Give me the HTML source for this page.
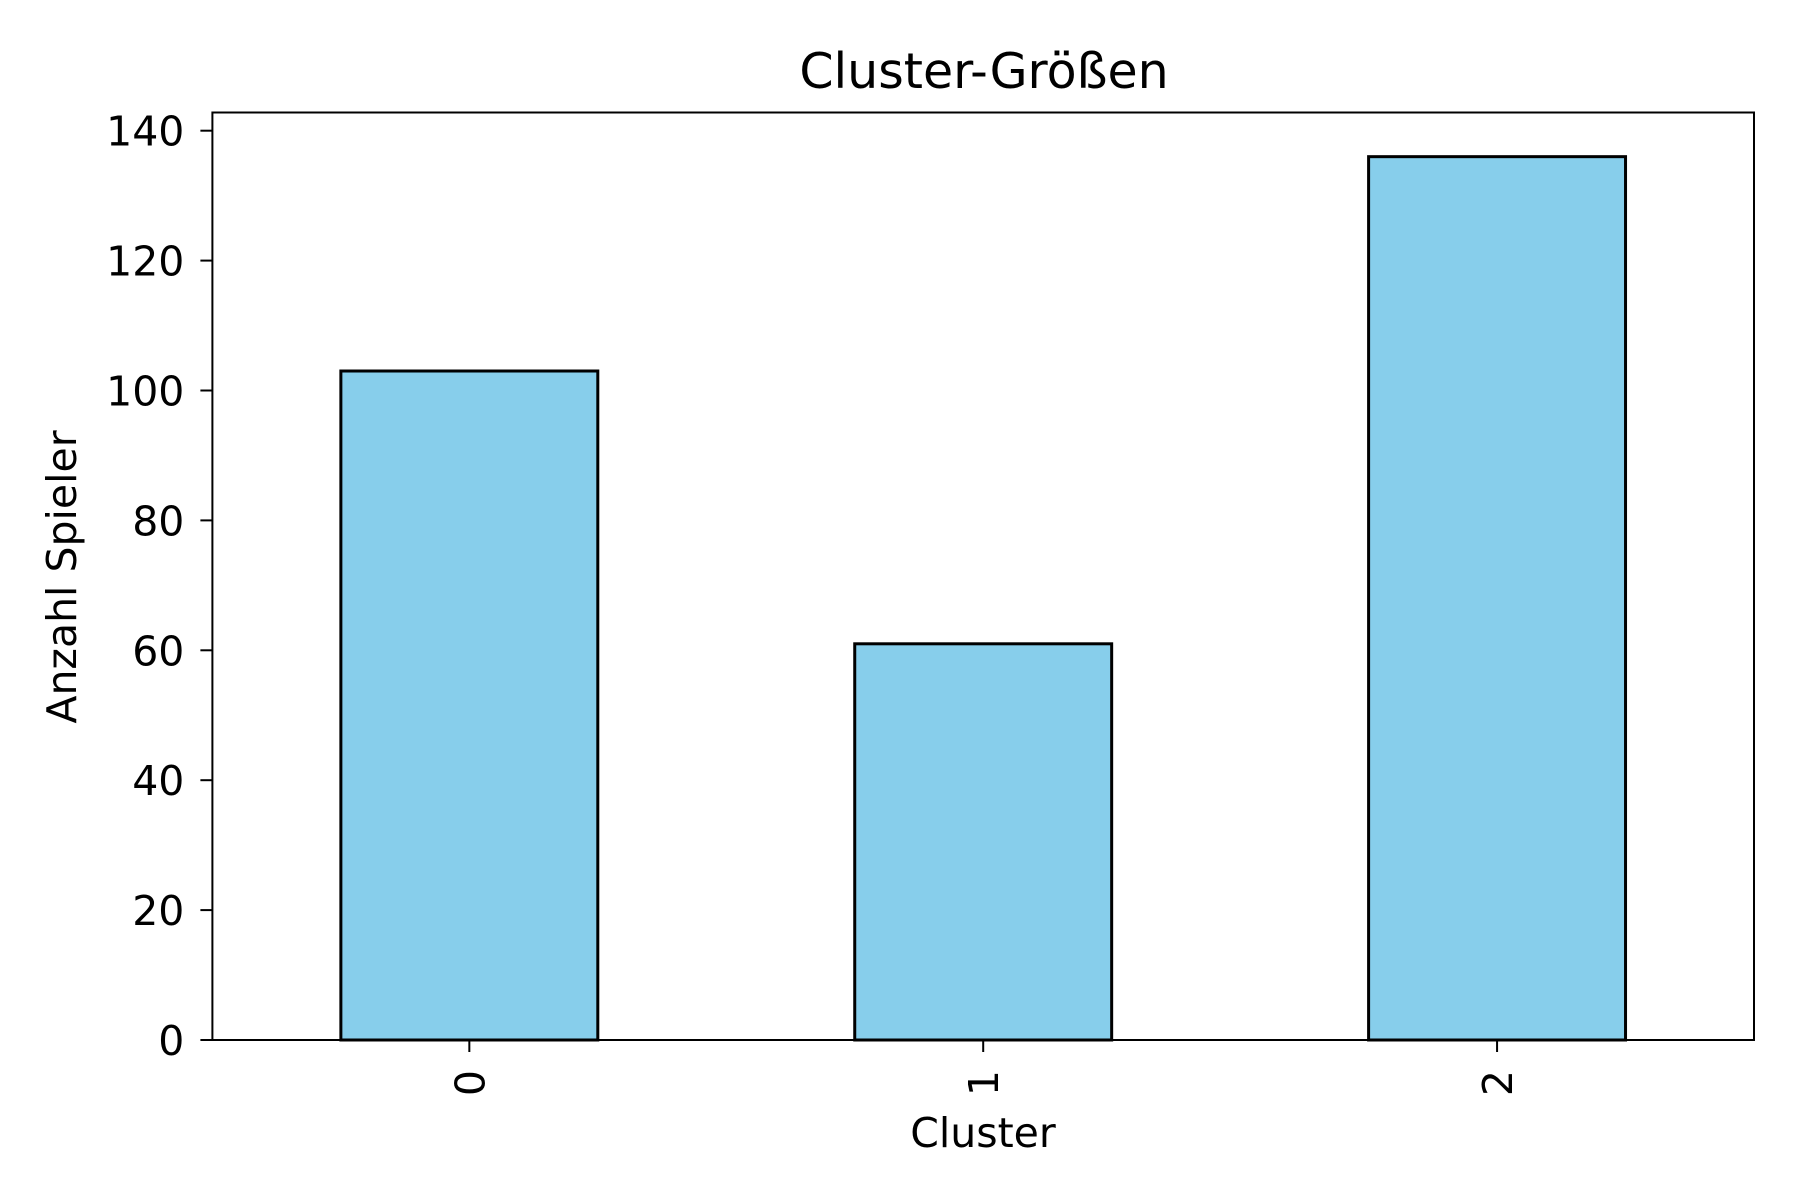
<!DOCTYPE html>
<html><head><meta charset="utf-8"><style>
html,body{margin:0;padding:0;background:#fff;}
svg{display:block;font-family:"DejaVu Sans","Liberation Sans",sans-serif;}
</style></head><body>
<svg id="chart" width="1800" height="1200" viewBox="0 0 1800 1200" xmlns="http://www.w3.org/2000/svg">
<rect width="1800" height="1200" fill="#fff"/>
<text x="984" y="88" font-size="49" text-anchor="middle">Cluster-Größen</text>
<g id="bars"></g>
<g id="yticks"></g>
<g id="xticks"></g>
<rect x="212.4" y="112.5" width="1541.6" height="927.5" fill="none" stroke="#000" stroke-width="2"/>
<text transform="translate(76,577) rotate(-90)" font-size="41" text-anchor="middle">Anzahl Spieler</text>
<text x="983" y="1147" font-size="41" text-anchor="middle">Cluster</text>
</svg>
<script>
const categories = ["0", "1", "2"];
const values = [103, 61, 136];
const yTicks = [0, 20, 40, 60, 80, 100, 120, 140];

const L = 212.4, R = 1754, T = 112.5, B = 1040;
const yMax = 142.8, xMin = -0.5, xMax = 2.5;
const NS = "http://www.w3.org/2000/svg";
function y(v){ return B - (v / yMax) * (B - T); }
function x(i){ return L + (i - xMin) / (xMax - xMin) * (R - L); }
const bw = (x(0.5) - x(0));
function mk(tag, attrs, parent){ const e = document.createElementNS(NS, tag); for (const k in attrs) e.setAttribute(k, attrs[k]); parent.appendChild(e); return e; }

const gB = document.getElementById('bars');
values.forEach((v, i) => {
  const r = mk('rect', {x: x(i) - bw/2, y: y(v), width: bw, height: B - y(v), fill: '#87ceeb', stroke: '#000', 'stroke-width': 3}, gB);
  
  
});
const gY = document.getElementById('yticks');
yTicks.forEach(t => {
  const l = mk('line', {x1: L - 12, x2: L, y1: y(t), y2: y(t), stroke: '#000', 'stroke-width': 2}, gY);
  
  
  const tx = mk('text', {x: L - 28, y: y(t) + 15, 'font-size': 41, 'text-anchor': 'end'}, gY);
  tx.textContent = t;
  
  
});
const gX = document.getElementById('xticks');
categories.forEach((c, i) => {
  const l = mk('line', {x1: x(i), x2: x(i), y1: B, y2: B + 12, stroke: '#000', 'stroke-width': 2}, gX);
  
  
  const tx = mk('text', {transform: 'translate(' + (x(i) + 15) + ',' + (B + 30) + ') rotate(-90)', 'font-size': 41, 'text-anchor': 'end'}, gX);
  tx.textContent = c;
  
  
});
</script>
</body></html>
